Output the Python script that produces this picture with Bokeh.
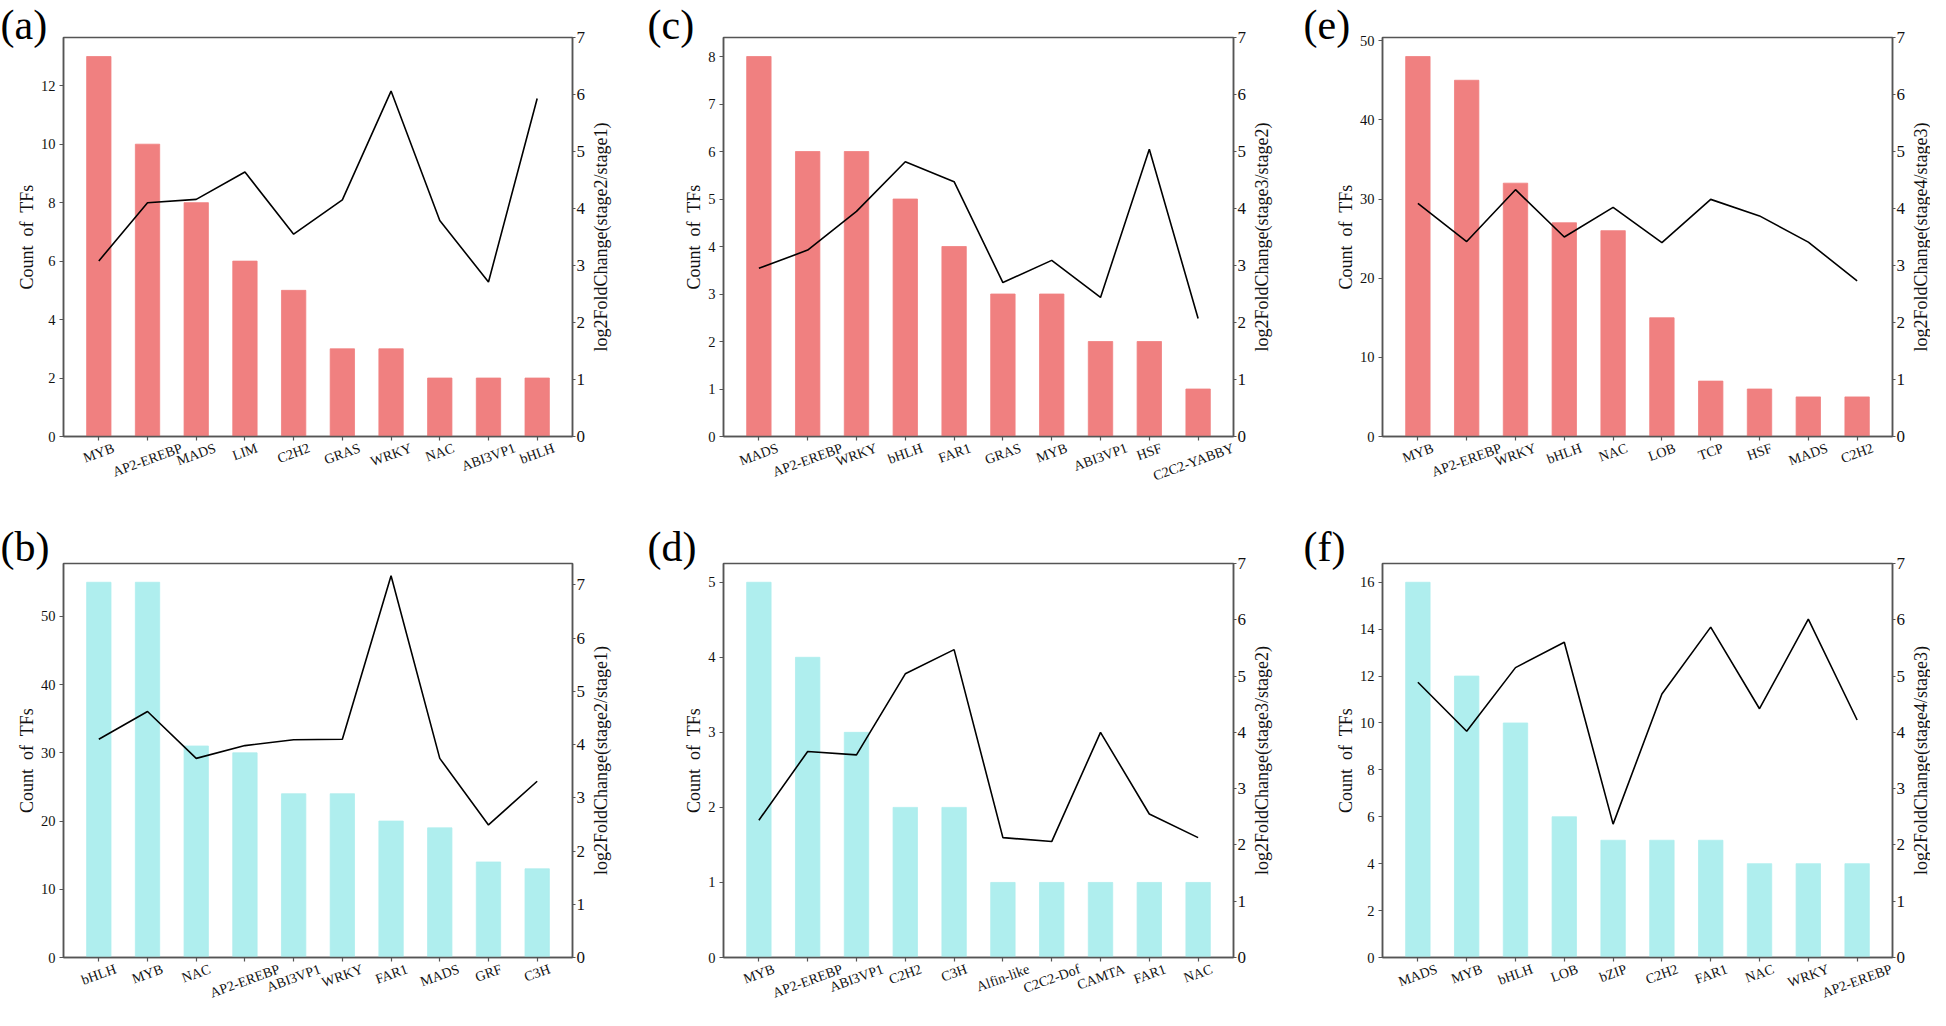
import math
from bokeh.plotting import figure
from bokeh.models import Range1d, LinearAxis, FixedTicker, Label
from bokeh.layouts import row, column
from bokeh.embed import file_html
from bokeh.resources import INLINE

# ---------------- data ----------------
a_cats = ["MYB", "AP2-EREBP", "MADS", "LIM", "C2H2", "GRAS", "WRKY", "NAC", "ABI3VP1", "bHLH"]
a_counts = [13, 10, 8, 6, 5, 3, 3, 2, 2, 2]
a_fc = [3.08, 4.10, 4.16, 4.64, 3.55, 4.15, 6.06, 3.79, 2.71, 5.93]

b_cats = ["bHLH", "MYB", "NAC", "AP2-EREBP", "ABI3VP1", "WRKY", "FAR1", "MADS", "GRF", "C3H"]
b_counts = [55, 55, 31, 30, 24, 24, 20, 19, 14, 13]
b_fc = [4.10, 4.62, 3.74, 3.98, 4.09, 4.10, 7.17, 3.74, 2.49, 3.31]

c_cats = ["MADS", "AP2-EREBP", "WRKY", "bHLH", "FAR1", "GRAS", "MYB", "ABI3VP1", "HSF", "C2C2-YABBY"]
c_counts = [8, 6, 6, 5, 4, 3, 3, 2, 2, 1]
c_fc = [2.95, 3.27, 3.95, 4.82, 4.47, 2.70, 3.09, 2.44, 5.04, 2.07]

d_cats = ["MYB", "AP2-EREBP", "ABI3VP1", "C2H2", "C3H", "Alfin-like", "C2C2-Dof", "CAMTA", "FAR1", "NAC"]
d_counts = [5, 4, 3, 2, 2, 1, 1, 1, 1, 1]
d_fc = [2.44, 3.66, 3.60, 5.04, 5.47, 2.13, 2.06, 4.00, 2.55, 2.13]

e_cats = ["MYB", "AP2-EREBP", "WRKY", "bHLH", "NAC", "LOB", "TCP", "HSF", "MADS", "C2H2"]
e_counts = [48, 45, 32, 27, 26, 15, 7, 6, 5, 5]
e_fc = [4.09, 3.42, 4.33, 3.50, 4.02, 3.40, 4.16, 3.87, 3.41, 2.73]

f_cats = ["MADS", "MYB", "bHLH", "LOB", "bZIP", "C2H2", "FAR1", "NAC", "WRKY", "AP2-EREBP"]
f_counts = [16, 12, 10, 6, 5, 5, 5, 4, 4, 4]
f_fc = [4.89, 4.02, 5.15, 5.60, 2.37, 4.68, 5.87, 4.42, 6.01, 4.22]

left_ticks = {
    "a": [0, 2, 4, 6, 8, 10, 12],
    "b": [0, 10, 20, 30, 40, 50],
    "c": [0, 1, 2, 3, 4, 5, 6, 7, 8],
    "d": [0, 1, 2, 3, 4, 5],
    "e": [0, 10, 20, 30, 40, 50],
    "f": [0, 2, 4, 6, 8, 10, 12, 14, 16],
}
right_ticks = [0, 1, 2, 3, 4, 5, 6, 7]
right_titles = {
    "a": "log2FoldChange(stage2/stage1)",
    "b": "log2FoldChange(stage2/stage1)",
    "c": "log2FoldChange(stage3/stage2)",
    "d": "log2FoldChange(stage3/stage2)",
    "e": "log2FoldChange(stage4/stage3)",
    "f": "log2FoldChange(stage4/stage3)",
}
left_title = "Count\u00a0 of\u00a0 TFs"

RED = "#F08080"
CYAN = "#AFEEEE"
FONT = "Liberation Serif"
AXC = "#555555"
TXT = "#111111"

CW = dict(zip("ABCDEFGHIJKLMNOPQRSTUVWXYZ",
              [722, 667, 667, 722, 611, 556, 722, 722, 333, 389, 722, 611, 889, 722, 722, 556, 722, 667, 556, 611, 722, 722, 944, 722, 722, 611]))
CW.update(dict(zip("abcdefghijklmnopqrstuvwxyz",
                   [444, 500, 444, 500, 444, 333, 500, 500, 278, 278, 500, 278, 778, 500, 500, 500, 500, 333, 389, 278, 500, 500, 722, 500, 500, 444])))
CW.update({d: 500 for d in "0123456789"})
CW.update({"-": 333, " ": 250})


def text_w(s, size):
    return sum(CW.get(ch, 500) for ch in s) / 1000.0 * size


XLO, XHI = -0.725, 9.725
ROT = math.radians(20)
XFS = 14

# (left border, frame width, right border, letter x offset)
COLS = [(63, 509, 73, -63), (78, 510, 67, -76), (82, 510, 38, -79)]
# (top border, frame height, bottom border, letter standoff)
ROWS = [(37, 399, 56, -20), (70, 394, 52, -12)]


def style_axis(ax, size):
    ax.major_label_text_font = FONT
    ax.major_label_text_font_size = size
    ax.major_label_text_color = TXT
    ax.major_tick_in = 0
    ax.minor_tick_out = 0
    ax.minor_tick_in = 0
    ax.axis_line_color = AXC
    ax.axis_line_width = 1.5
    ax.major_tick_line_color = AXC
    ax.major_tick_line_width = 1.2


def panel(letter, cats, counts, fc, color, ymax, rmax, ci, ri):
    lb, fw, rb, lx = COLS[ci]
    tb, fh, bb, st = ROWS[ri]
    p = figure(frame_width=fw, frame_height=fh,
               x_range=Range1d(XLO, XHI), y_range=Range1d(0, ymax),
               output_backend="svg", toolbar_location=None,
               min_border_left=lb, min_border_right=rb,
               min_border_top=tb, min_border_bottom=bb)
    p.extra_y_ranges = {"r": Range1d(0, rmax)}
    p.xgrid.visible = False
    p.ygrid.visible = False
    p.outline_line_color = AXC
    p.outline_line_width = 1.5
    p.border_fill_color = "white"

    xs = list(range(len(cats)))
    p.vbar(x=xs, top=counts, width=0.5, fill_color=color, line_color=color, line_width=0.8)
    p.line(x=xs, y=fc, y_range_name="r", line_color="black", line_width=1.6)

    # bottom axis: tick marks only
    xa = p.xaxis[0]
    style_axis(xa, "0px")
    xa.ticker = FixedTicker(ticks=xs)
    xa.major_label_overrides = {i: "" for i in xs}
    xa.major_tick_out = 4
    xa.major_label_standoff = 0

    # second bottom axis carrying the rotated names, centred under each tick
    ppu = fw / (XHI - XLO)
    pos = [round(min(i + (text_w(c, XFS) / 2.0) * math.cos(ROT) / ppu, XHI - 0.003), 4)
           for i, c in enumerate(cats)]
    la = LinearAxis(ticker=FixedTicker(ticks=pos),
                    major_label_overrides={t: c for t, c in zip(pos, cats)},
                    major_label_orientation=ROT)
    style_axis(la, "%dpx" % XFS)
    la.axis_line_color = None
    la.major_tick_line_color = None
    la.major_tick_out = 0
    la.major_label_standoff = 7
    p.add_layout(la, "below")

    # left axis
    ya = p.yaxis[0]
    style_axis(ya, "14.5px")
    ya.ticker = FixedTicker(ticks=left_ticks[letter])
    ya.major_tick_out = 4
    ya.major_label_standoff = 4
    ya.axis_label = left_title
    ya.axis_label_text_font = FONT
    ya.axis_label_text_font_size = "18px"
    ya.axis_label_text_font_style = "normal"
    ya.axis_label_text_color = TXT
    ya.axis_label_standoff = 1

    # right axis
    ra = LinearAxis(y_range_name="r", ticker=FixedTicker(ticks=right_ticks))
    style_axis(ra, "17px")
    ra.major_tick_out = 3
    ra.major_label_standoff = 1
    p.add_layout(ra, "right")
    p.add_layout(Label(x=XHI, y=ymax / 2.0, x_offset=28, angle=math.pi / 2,
                       text=right_titles[letter], text_font=FONT, text_font_size="18px",
                       text_color=TXT, text_align="center", text_baseline="middle"), "right")

    # panel letter as the plot title
    t = p.title
    t.text = "(" + letter + ")"
    t.align = "left"
    t.vertical_align = "bottom"
    t.offset = lx
    try:
        t.standoff = st
    except Exception:
        t.standoff = 0
    t.text_font = FONT
    t.text_font_size = "42px"
    t.text_font_style = "normal"
    t.text_color = "black"
    return p


pa = panel("a", a_cats, a_counts, a_fc, RED, 13.65, 7.0, 0, 0)
pc = panel("c", c_cats, c_counts, c_fc, RED, 8.4, 7.0, 1, 0)
pe = panel("e", e_cats, e_counts, e_fc, RED, 50.4, 7.0, 2, 0)
pb = panel("b", b_cats, b_counts, b_fc, CYAN, 57.75, 7.40, 0, 1)
pd = panel("d", d_cats, d_counts, d_fc, CYAN, 5.25, 7.0, 1, 1)
pf = panel("f", f_cats, f_counts, f_fc, CYAN, 16.8, 7.0, 2, 1)

layout = column(row(pa, pc, pe), row(pb, pd, pf))

open("out.html", "w").write(file_html(layout, INLINE))
